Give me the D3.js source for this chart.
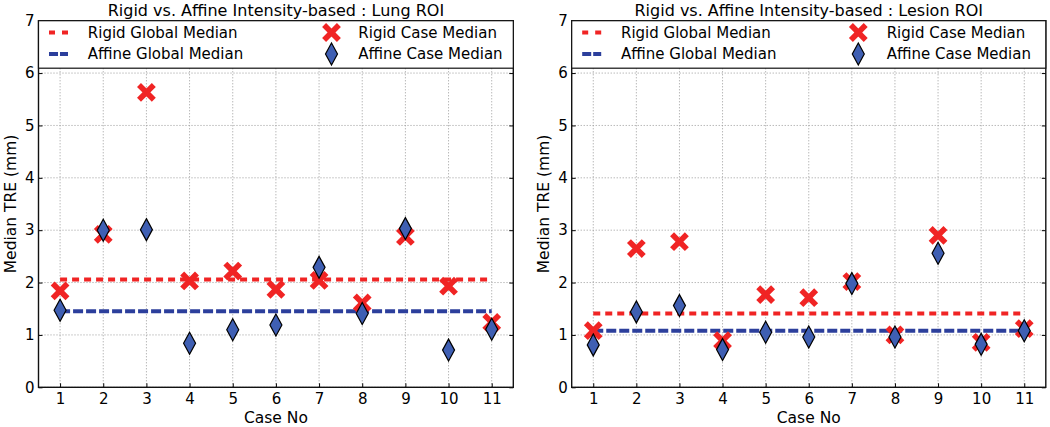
<!DOCTYPE html>
<html>
<head>
<meta charset="utf-8">
<script src="https://cdn.jsdelivr.net/npm/d3@7/dist/d3.min.js"></script>
<style>
  html, body { margin: 0; padding: 0; background: #fff; }
  svg { display: block; font-family: "DejaVu Sans", sans-serif; }
</style>
</head>
<body>
<svg id="chart" width="1050" height="427"></svg>
<script>
// ---------- data ----------
const cases = [1, 2, 3, 4, 5, 6, 7, 8, 9, 10, 11];
const yTicks = [0, 1, 2, 3, 4, 5, 6, 7];

const lungTitle = "Rigid vs. Affine Intensity-based : Lung ROI";
const lungRigid  = [1.84, 2.92, 5.63, 2.03, 2.22, 1.87, 2.04, 1.61, 2.88, 1.93, 1.24];
const lungAffine = [1.47, 3.00, 3.01, 0.84, 1.10, 1.19, 2.29, 1.41, 3.03, 0.71, 1.11];
const lungRigidGlobal  = 2.06;
const lungAffineGlobal = 1.45;

const lesionTitle = "Rigid vs. Affine Intensity-based : Lesion ROI";
const lesionRigid  = [1.08, 2.65, 2.78, 0.89, 1.77, 1.71, 2.02, 1.00, 2.90, 0.86, 1.12];
const lesionAffine = [0.81, 1.44, 1.56, 0.72, 1.05, 0.96, 1.98, 0.96, 2.56, 0.82, 1.08];
const lesionRigidGlobal  = 1.41;
const lesionAffineGlobal = 1.08;

const legendLabels = ["Rigid Global Median", "Affine Global Median", "Rigid Case Median", "Affine Case Median"];
const xLabel = "Case No";
const yLabel = "Median TRE (mm)";

// ---------- styles ----------
const RED = "#f02424";
const BLUE_LINE = "#2c3f9c";
const BLUE_FILL = "#3f5fb3";

const svg = d3.select("#chart");

function xMarker(sel) {
  const r = 7.4;
  sel.append("path")
    .attr("d", `M${-r},${-r}L${r},${r}M${-r},${r}L${r},${-r}`)
    .attr("stroke", RED).attr("stroke-width", 5.6).attr("fill", "none");
}
function diamond(sel) {
  const w = 6, h = 11;
  sel.append("path")
    .attr("d", `M0,${-h}L${w},0L0,${h}L${-w},0Z`)
    .attr("fill", BLUE_FILL).attr("stroke", "#000").attr("stroke-width", 1.2);
}

function panel(cfg) {
  const x = d3.scaleLinear().domain([0.5, 11.5]).range([cfg.left, cfg.right]);
  const y = d3.scaleLinear().domain([0, 7]).range([387.3, 20.7]);
  const g = svg.append("g");

  // grid
  g.append("g").selectAll("line").data(cases).join("line")
    .attr("x1", d => x(d)).attr("x2", d => x(d))
    .attr("y1", y(0)).attr("y2", y(7))
    .attr("stroke", "#9a9a9a").attr("stroke-width", 1).attr("stroke-dasharray", "1,2");
  g.append("g").selectAll("line").data(yTicks).join("line")
    .attr("x1", x(0.5)).attr("x2", x(11.5))
    .attr("y1", d => y(d)).attr("y2", d => y(d))
    .attr("stroke", "#9a9a9a").attr("stroke-width", 1).attr("stroke-dasharray", "1,2");

  // axes
  const ax = g.append("g").attr("transform", `translate(0,${y(0)})`)
    .call(d3.axisBottom(x).tickValues(cases).tickSize(-4).tickPadding(6).tickFormat(d3.format("d")));
  const ay = g.append("g").attr("transform", `translate(${x(0.5)},0)`)
    .call(d3.axisLeft(y).tickValues(yTicks).tickSize(-4).tickPadding(4).tickFormat(d3.format("d")));
  const at = g.append("g").attr("transform", `translate(0,${y(7)})`)
    .call(d3.axisTop(x).tickValues(cases).tickSize(-4).tickFormat(""));
  const ar = g.append("g").attr("transform", `translate(${x(11.5)},0)`)
    .call(d3.axisRight(y).tickValues(yTicks).tickSize(-4).tickFormat(""));
  [ax, ay, at, ar].forEach(a => {
    a.select(".domain").remove();
    a.selectAll(".tick line").attr("stroke", "#000");
    a.selectAll(".tick text").attr("font-size", 15).attr("fill", "#000")
      .attr("font-family", "DejaVu Sans, sans-serif");
  });

  // global median lines
  g.append("line")
    .attr("x1", x(cases[0])).attr("x2", x(cases[cases.length - 1]))
    .attr("y1", y(cfg.rigidGlobal)).attr("y2", y(cfg.rigidGlobal))
    .attr("stroke", RED).attr("stroke-width", 4).attr("stroke-dasharray", "7,5");
  g.append("line")
    .attr("x1", x(cases[0])).attr("x2", x(cases[cases.length - 1]))
    .attr("y1", y(cfg.affineGlobal)).attr("y2", y(cfg.affineGlobal))
    .attr("stroke", BLUE_LINE).attr("stroke-width", 4).attr("stroke-dasharray", "10,3");

  // case markers
  g.append("g").selectAll("g").data(cases).join("g")
    .attr("transform", (d, i) => `translate(${x(d)},${y(cfg.rigid[i])})`)
    .each(function () { xMarker(d3.select(this)); });
  g.append("g").selectAll("g").data(cases).join("g")
    .attr("transform", (d, i) => `translate(${x(d)},${y(cfg.affine[i])})`)
    .each(function () { diamond(d3.select(this)); });

  // frame
  g.append("rect")
    .attr("x", x(0.5)).attr("y", y(7))
    .attr("width", x(11.5) - x(0.5)).attr("height", y(0) - y(7))
    .attr("fill", "none").attr("stroke", "#111").attr("stroke-width", 1.4);

  // legend
  const L = x(0.5);
  const lg = g.append("g");
  lg.append("rect")
    .attr("x", L).attr("y", y(7))
    .attr("width", x(11.5) - x(0.5)).attr("height", 47.5)
    .attr("fill", "#fff").attr("stroke", "#111").attr("stroke-width", 1.2);
  const row1 = 32.5, row2 = 54;
  lg.append("line").attr("x1", L + 10.5).attr("x2", L + 29.5).attr("y1", row1).attr("y2", row1)
    .attr("stroke", RED).attr("stroke-width", 4).attr("stroke-dasharray", "6,7");
  lg.append("line").attr("x1", L + 10.5).attr("x2", L + 29.5).attr("y1", row2).attr("y2", row2)
    .attr("stroke", BLUE_LINE).attr("stroke-width", 4).attr("stroke-dasharray", "9,2");
  xMarker(lg.append("g").attr("transform", `translate(${L + cfg.legMark},${row1})`));
  diamond(lg.append("g").attr("transform", `translate(${L + cfg.legMark},${row2})`));
  const txt = [
    [L + 49.3, row1, legendLabels[0]],
    [L + 49.3, row2, legendLabels[1]],
    [L + cfg.legText, row1, legendLabels[2]],
    [L + cfg.legText, row2, legendLabels[3]]
  ];
  lg.selectAll("text").data(txt).join("text")
    .attr("x", d => d[0]).attr("y", d => d[1]).attr("dy", "0.36em")
    .attr("font-size", 15).attr("fill", "#000").text(d => d[2]);

  // titles and labels
  g.append("text").attr("x", (x(0.5) + x(11.5)) / 2).attr("y", 16)
    .attr("text-anchor", "middle").attr("font-size", 16).text(cfg.title);
  g.append("text").attr("x", (x(0.5) + x(11.5)) / 2).attr("y", 423)
    .attr("text-anchor", "middle").attr("font-size", 15.5).text(xLabel);
  g.append("text")
    .attr("transform", `translate(${x(0.5) - 22.5},${(y(0) + y(7)) / 2}) rotate(-90)`)
    .attr("text-anchor", "middle").attr("font-size", 15.5).text(yLabel);
}

panel({ left: 38.5, right: 513.3, title: lungTitle, rigid: lungRigid, affine: lungAffine,
        rigidGlobal: lungRigidGlobal, affineGlobal: lungAffineGlobal, legMark: 293, legText: 319.8 });
panel({ left: 571.7, right: 1045.8, title: lesionTitle, rigid: lesionRigid, affine: lesionAffine,
        rigidGlobal: lesionRigidGlobal, affineGlobal: lesionAffineGlobal, legMark: 286.6, legText: 315 });
</script>
</body>
</html>
